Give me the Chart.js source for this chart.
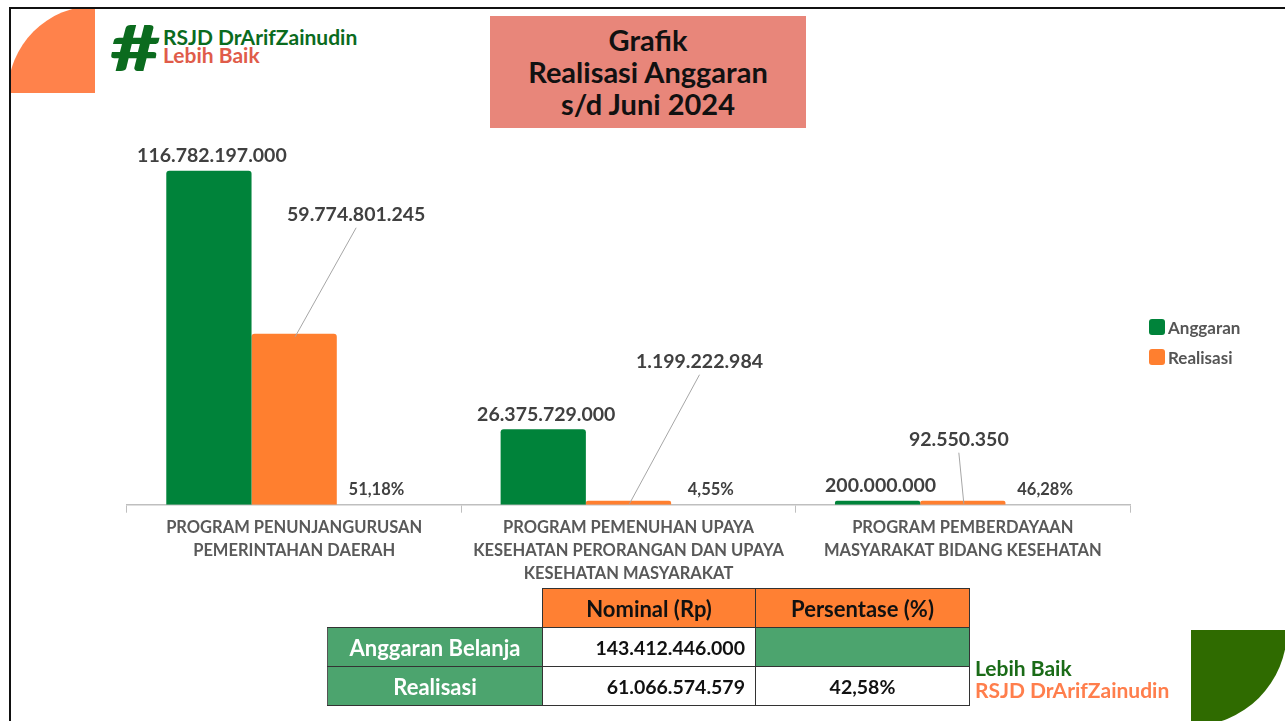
<!DOCTYPE html>
<html>
<head>
<meta charset="utf-8">
<script src="https://cdn.jsdelivr.net/npm/chart.js@4.4.1/dist/chart.umd.min.js"></script>
<style>
  html, body { margin: 0; padding: 0; background: #fff; }
  body { width: 1285px; height: 721px; position: relative; overflow: hidden; font-family: Lato, "Open Sans", sans-serif; }
  #frame { position: absolute; left: 9px; top: 7px; width: 1300px; height: 730px; border-top: 2px solid #111; border-left: 2px solid #111; }
  #cornerTL { position: absolute; left: 11px; top: 9px; width: 84px; height: 84px; overflow: hidden; }
  #cornerTL div { position: absolute; left: -3px; top: -3px; width: 174px; height: 174px; border-radius: 50%; background: #FF824B; }
  #cornerBR { position: absolute; left: 1191px; top: 630px; width: 94px; height: 91px; overflow: hidden; }
  #cornerBR div { position: absolute; left: -96px; top: -96px; width: 192px; height: 192px; border-radius: 50%; background: #2F6B00; }
  .logo { position: absolute; font-weight: 700; white-space: nowrap; }
  #hash { position: absolute; left: 110px; top: 12px; font-size: 62px; font-weight: 900; color: #0B6B1E; line-height: 70px;
          transform: scaleX(1.4); transform-origin: left top; }
  #title { position: absolute; left: 490px; top: 16px; width: 316px; height: 112px; background: #E8867A; text-align: center;
           font-weight: 700; font-size: 29px; line-height: 32px; color: #111; padding-top: 8px; box-sizing: border-box; }
  #legend { position: absolute; left: 1149px; top: 312px; }
  #legend .item { display: flex; align-items: center; height: 30px; font-weight: 700; font-size: 17px; color: #555; }
  #legend .sw { width: 16px; height: 16px; border-radius: 3px; margin-right: 3px; }
  canvas { position: absolute; left: 0; top: 0; }
  #tbl { position: absolute; left: 327px; top: 588px; border-collapse: collapse; font-weight: 700; font-size: 22px; }
  #tbl td { height: 39px; padding: 0 10px; box-sizing: border-box; border: 1.5px solid #333; color: #111; }
  #tbl td.empty { border: none; border-bottom: 1.5px solid #333; }
  #tbl td.head { background: #FF8033; text-align: center; }
  #tbl td.rowh { background: #4CA46E; color: #fff; text-align: center; border-left-color: #555; }
  #tbl td.num { background: #fff; text-align: right; font-size: 19.5px; }
  #tbl td.pct { background: #fff; text-align: center; font-size: 19.5px; }
  #tbl td.blank { background: #4CA46E; }
</style>
</head>
<body>
<div id="frame"></div>
<div id="cornerTL"><div></div></div>
<div id="cornerBR"><div></div></div>
<div id="hash">#</div>
<div class="logo" style="left:163px;top:27px;font-size:21px;line-height:20px;color:#0B6B1E;">RSJD DrArifZainudin</div>
<div class="logo" style="left:163px;top:45px;font-size:21px;line-height:20px;color:#E05C4A;">Lebih Baik</div>
<div id="title">Grafik<br>Realisasi Anggaran<br>s/d Juni 2024</div>
<canvas id="myChart" width="1285" height="721"></canvas>
<div id="legend"></div>
<table id="tbl"></table>
<div class="logo" style="left:975px;top:657px;font-size:21px;line-height:22px;color:#1A6B17;">Lebih Baik</div>
<div class="logo" style="left:975px;top:679px;font-size:21px;line-height:22px;color:#FF7E4C;">RSJD DrArifZainudin</div>

<script>
// kategori (eje X)
var programs = [
    ['PROGRAM PENUNJANGURUSAN', 'PEMERINTAHAN DAERAH'],
    ['PROGRAM PEMENUHAN UPAYA', 'KESEHATAN PERORANGAN DAN UPAYA', 'KESEHATAN MASYARAKAT'],
    ['PROGRAM PEMBERDAYAAN', 'MASYARAKAT BIDANG KESEHATAN']
];
// nilai (Rp)
var anggaran = [116782197000, 26375729000, 200000000];
var realisasi = [59774801245, 1199222984, 92550350];
// persentase realisasi
var persen = [51.18, 4.55, 46.28];

// tabel ringkasan
var tableHeads = ['Nominal (Rp)', 'Persentase (%)'];
var tableRows = ['Anggaran Belanja', 'Realisasi'];
var tableNominal = [143412446000, 61066574579];
var tablePersen = [null, 42.58];

var green = '#00833A';
var orange = '#FF7F2F';
var labelColor = '#404040';

function fmtRp(v) {
    return v.toString().replace(/\B(?=(\d{3})+(?!\d))/g, '.');
}
function fmtPct(v) {
    return v.toFixed(2).replace('.', ',') + '%';
}

// posisi label realisasi (relatif ke puncak batang), dengan garis penunjuk
var leaderOffsets = [[62, -119], [71, -139], [-4, -61]];

var barLabels = {
    id: 'barLabels',
    afterDatasetsDraw: function(chart) {
        var c = chart.ctx;
        c.save();
        c.textAlign = 'center';
        c.textBaseline = 'middle';
        c.fillStyle = labelColor;

        // anggaran
        c.font = 'bold 19.5px Lato';
        chart.getDatasetMeta(0).data.forEach(function(bar, i) {
            c.fillText(fmtRp(anggaran[i]), bar.x + 3, bar.y - 15);
        });

        // realisasi
        chart.getDatasetMeta(1).data.forEach(function(bar, i) {
            var lx = bar.x + leaderOffsets[i][0];
            var ly = bar.y + leaderOffsets[i][1];
            c.strokeStyle = '#A6A6A6';
            c.lineWidth = 1;
            c.beginPath();
            c.moveTo(bar.x + 1, bar.y + 3);
            c.lineTo(lx, ly + 13);
            c.stroke();
            c.fillText(fmtRp(realisasi[i]), lx, ly);
        });

        // persentase
        c.font = 'bold 16.5px Lato';
        chart.getDatasetMeta(2).data.forEach(function(bar, i) {
            c.fillText(fmtPct(persen[i]), bar.x - 3, chart.chartArea.bottom - 15);
        });
        c.restore();
    }
};

var ctx = document.getElementById('myChart').getContext('2d');
var myChart = new Chart(ctx, {
    type: 'bar',
    data: {
        labels: programs,
        datasets: [{
            label: 'Anggaran',
            data: anggaran,
            backgroundColor: green,
            borderRadius: {topLeft: 3, topRight: 3},
            borderSkipped: 'bottom',
            minBarLength: 4
        }, {
            label: 'Realisasi',
            data: realisasi,
            backgroundColor: orange,
            borderRadius: {topLeft: 3, topRight: 3},
            borderSkipped: 'bottom',
            minBarLength: 4
        }, {
            label: 'Persentase',
            data: [0, 0, 0],
            backgroundColor: 'rgba(0,0,0,0)'
        }]
    },
    options: {
        responsive: false,
        animation: false,
        categoryPercentage: 0.765,
        barPercentage: 1.0,
        layout: {padding: {left: 127, right: 155, top: 130, bottom: 133}},
        plugins: {
            legend: {display: false},
            tooltip: {enabled: false}
        },
        scales: {
            x: {
                grid: {display: true, drawOnChartArea: false, drawTicks: true, tickLength: 8, color: '#BFBFBF', offset: true},
                border: {display: true, color: '#BFBFBF', width: 1.5},
                ticks: {
                    color: '#595959',
                    padding: 3,
                    maxRotation: 0,
                    autoSkip: false,
                    font: {family: 'Lato', size: 16.5, weight: 'bold', lineHeight: 1.4}
                }
            },
            y: {display: false, min: 0, max: 131e9}
        }
    },
    plugins: [barLabels]
});

// legenda
var legend = document.getElementById('legend');
myChart.data.datasets.slice(0, 2).forEach(function(ds) {
    var item = document.createElement('div');
    item.className = 'item';
    item.innerHTML = '<span class="sw" style="background:' + ds.backgroundColor + '"></span>' + ds.label;
    legend.appendChild(item);
});

// tabel
var tbl = document.getElementById('tbl');
var html = '<tr><td class="empty" style="width:215px"></td>';
tableHeads.forEach(function(h, i) {
    html += '<td class="head" style="width:' + (i == 0 ? 213 : 214) + 'px">' + h + '</td>';
});
html += '</tr>';
tableRows.forEach(function(r, i) {
    html += '<tr><td class="rowh">' + r + '</td><td class="num">' + fmtRp(tableNominal[i]) + '</td>';
    if (tablePersen[i] === null) {
        html += '<td class="blank"></td>';
    } else {
        html += '<td class="pct">' + fmtPct(tablePersen[i]) + '</td>';
    }
    html += '</tr>';
});
tbl.innerHTML = html;
</script>
</body>
</html>
